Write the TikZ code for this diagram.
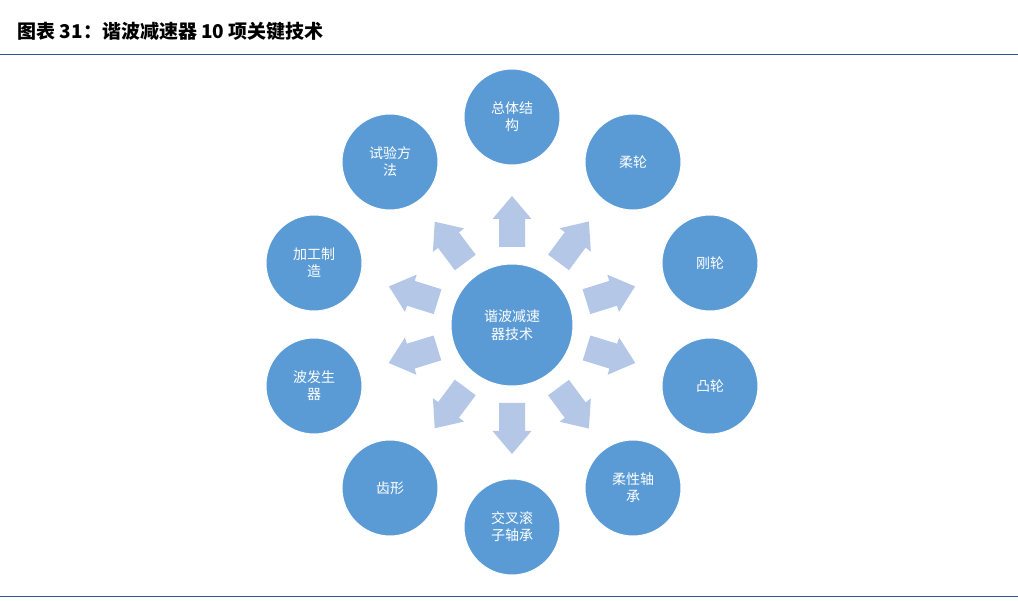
\documentclass[tikz,border=0pt]{standalone}
\usepackage{fontspec}
\setmainfont{Noto Sans CJK SC}
\begin{document}
\begin{tikzpicture}[x=1pt,y=1pt]
\definecolor{cblue}{HTML}{5B9BD5}
\definecolor{ablue}{HTML}{B4C7E7}
\definecolor{lblue}{HTML}{2E5597}
\tikzset{
 outer/.style={circle,fill=cblue,draw=white,line width=1pt,minimum size=96pt,inner sep=0pt,text=white,font=\fontsize{14}{17}\selectfont,align=center},
 core/.style={circle,fill=cblue,draw=white,line width=1pt,minimum size=122pt,inner sep=0pt,text=white,font=\fontsize{14}{18}\selectfont,align=center},
 blk/.style={fill=ablue}
}
\useasboundingbox (0,0) rectangle (1018,602);
\node[anchor=west,font=\bfseries\fontsize{19}{22}\selectfont] (title) at (14,571) {图表 31：谐波减速器 10 项关键技术};
\coordinate (l1a) at (0,547); \coordinate (l1b) at (1018,547);
\draw[lblue,line width=1pt] (l1a) -- (l1b);
\coordinate (l2a) at (0,5); \coordinate (l2b) at (1018,5);
\draw[lblue,line width=1pt] (l2a) -- (l2b);
\node[core] (c) at (512,277) {谐波减速\\器技术};
\foreach \ang in {90,53.4,17.4,-17.1,-53.4,-90,-126.8,197.1,162.6,126.8}{
 \fill[blk,shift={(512,277)},rotate=\ang] (78,-13) -- (106,-13) -- (106,-19.5) -- (129,0) -- (106,19.5) -- (106,13) -- (78,13) -- cycle;
}
\node[outer] (n1) at (512,485) {总体结\\构};
\node[outer] (n2) at (633,440) {柔轮};
\node[outer] (n3) at (710,339) {刚轮};
\node[outer] (n4) at (710,216) {凸轮};
\node[outer] (n5) at (633,114) {柔性轴\\承};
\node[outer] (n6) at (512,75) {交叉滚\\子轴承};
\node[outer] (n7) at (390,114) {齿形};
\node[outer] (n8) at (314,216) {波发生\\器};
\node[outer] (n9) at (314,339) {加工制\\造};
\node[outer] (n10) at (390,440) {试验方\\法};
\end{tikzpicture}
\end{document}
